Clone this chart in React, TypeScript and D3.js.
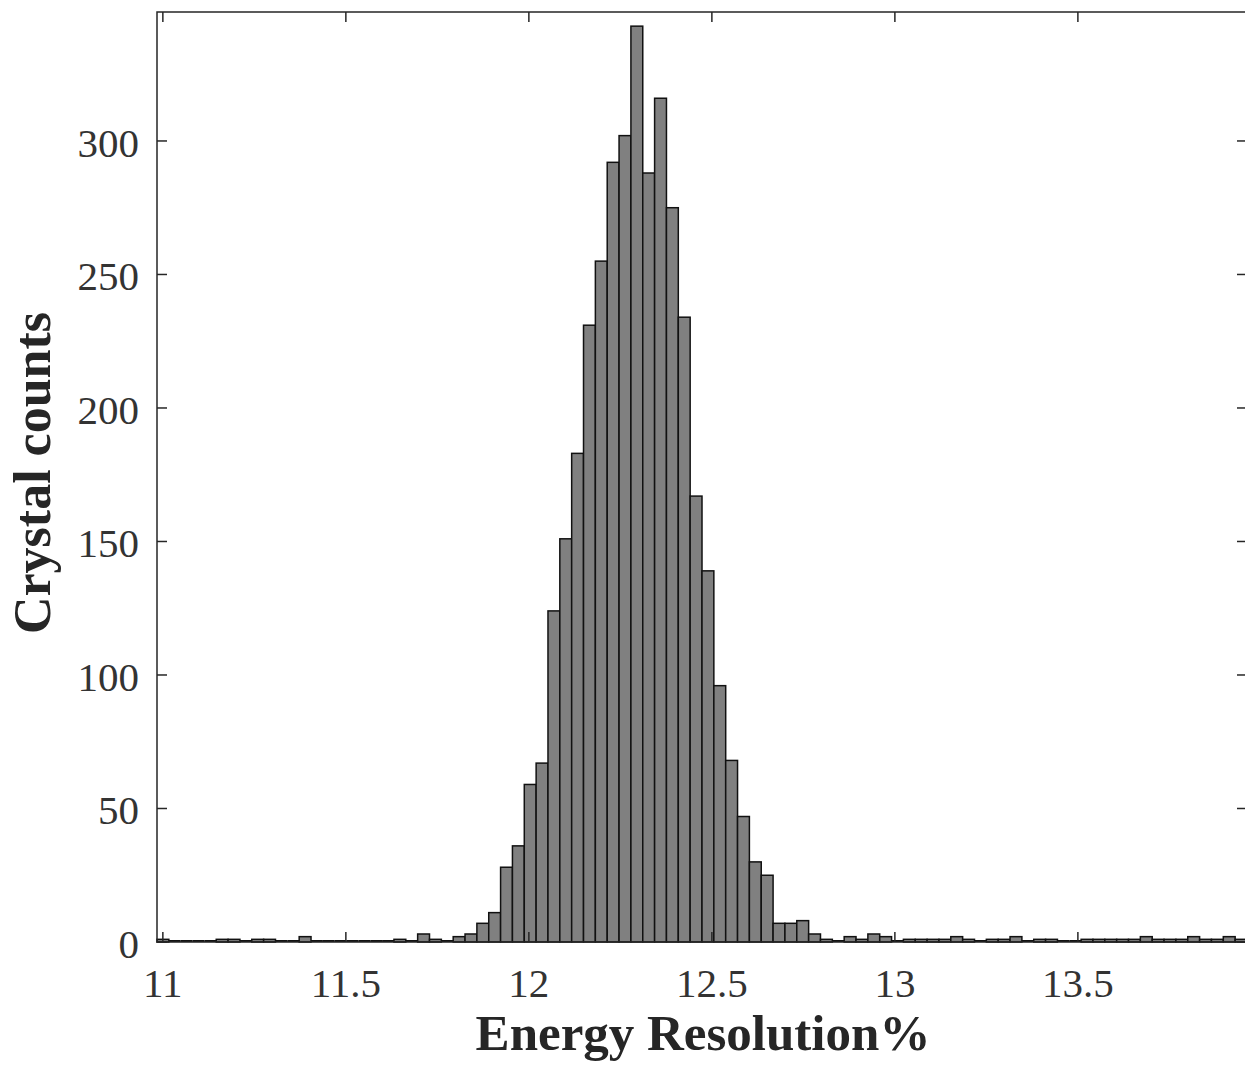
import { useEffect, useRef } from "react";
import * as d3 from "d3";

// histogram bins (energy resolution %), all bins the same width
const binStart = 10.984;
const binWidth = 0.03237;
const counts = [
  1, 0, 0, 0, 0, 1, 1, 0, 1, 1, 0, 0, 2, 0, 0, 0, 0, 0, 0, 0,
  1, 0, 3, 1, 0, 2, 3, 7, 11, 28, 36, 59, 67, 124, 151, 183, 231, 255, 292, 302,
  343, 288, 316, 275, 234, 167, 139, 96, 68, 47, 30, 25, 7, 7, 8, 3, 1, 0, 2, 1,
  3, 2, 0, 1, 1, 1, 1, 2, 1, 0, 1, 1, 2, 0, 1, 1, 0, 0, 1, 1,
  1, 1, 1, 2, 1, 1, 1, 2, 1, 1, 2, 1,
];
const xTicks = [11, 11.5, 12, 12.5, 13, 13.5];
const yTicks = [0, 50, 100, 150, 200, 250, 300];

export default function App() {
  const ref = useRef<SVGSVGElement>(null);

  useEffect(() => {
    const svg = d3.select(ref.current);
    svg.selectAll("*").remove();

    const left = 157, right = 1247, top = 12, bottom = 942;
    const xMax = binStart + binWidth * counts.length;

    const x = d3.scaleLinear().domain([binStart, xMax]).range([left, right]);
    const y = d3.scaleLinear().domain([0, 348.3]).range([bottom, top]);

    const font = "'Liberation Serif', 'Times New Roman', serif";
    const axisColor = "#262626";
    const binX0 = (i: number) => x(binStart + i * binWidth);
    const binX1 = (i: number) => x(binStart + (i + 1) * binWidth);

    // bars
    svg.append("g")
      .selectAll("rect")
      .data(counts)
      .enter()
      .append("rect")
      .attr("x", (d, i) => binX0(i))
      .attr("width", (d, i) => binX1(i) - binX0(i))
      .attr("y", (d) => y(d))
      .attr("height", (d) => y(0) - y(d))
      .attr("fill", "#808080")
      .attr("stroke", "#111")
      .attr("stroke-width", 1.5);

    // empty bins still leave their edge on the baseline
    svg.append("g")
      .selectAll("line")
      .data(counts.map((c, i) => ({ c, i })).filter((d) => d.c === 0))
      .enter()
      .append("line")
      .attr("x1", (d) => binX0(d.i))
      .attr("x2", (d) => binX1(d.i))
      .attr("y1", y(0) - 1)
      .attr("y2", y(0) - 1)
      .attr("stroke", "#111")
      .attr("stroke-width", 2);

    // box
    svg.append("rect")
      .attr("x", left).attr("y", top)
      .attr("width", right - left).attr("height", bottom - top)
      .attr("fill", "none")
      .attr("stroke", axisColor)
      .attr("stroke-width", 1.5);

    const tickLen = 10;
    const ticks = svg.append("g").attr("stroke", axisColor).attr("stroke-width", 1.5);

    xTicks.forEach((t) => {
      ticks.append("line").attr("x1", x(t)).attr("x2", x(t)).attr("y1", bottom).attr("y2", bottom - tickLen);
      ticks.append("line").attr("x1", x(t)).attr("x2", x(t)).attr("y1", top).attr("y2", top + tickLen);
    });
    yTicks.forEach((t) => {
      ticks.append("line").attr("x1", left).attr("x2", left + tickLen).attr("y1", y(t)).attr("y2", y(t));
      ticks.append("line").attr("x1", right).attr("x2", right - tickLen).attr("y1", y(t)).attr("y2", y(t));
    });

    // tick labels
    svg.append("g")
      .selectAll("text")
      .data(xTicks)
      .enter()
      .append("text")
      .attr("x", (d) => x(d))
      .attr("y", 997)
      .attr("text-anchor", "middle")
      .attr("font-family", font)
      .attr("font-size", 41)
      .attr("fill", "#333")
      .text((d) => String(d));

    svg.append("g")
      .selectAll("text")
      .data(yTicks)
      .enter()
      .append("text")
      .attr("x", 139)
      .attr("y", (d) => y(d))
      .attr("dy", "0.39em")
      .attr("text-anchor", "end")
      .attr("font-family", font)
      .attr("font-size", 41)
      .attr("fill", "#333")
      .text((d) => String(d));

    // axis titles
    svg.append("text")
      .attr("x", 703)
      .attr("y", 1050)
      .attr("text-anchor", "middle")
      .attr("font-family", font)
      .attr("font-weight", "bold")
      .attr("font-size", 51)
      .attr("fill", axisColor)
      .text("Energy Resolution%");

    svg.append("text")
      .attr("transform", `translate(50, ${(top + bottom) / 2 - 4}) rotate(-90)`)
      .attr("text-anchor", "middle")
      .attr("font-family", font)
      .attr("font-weight", "bold")
      .attr("font-size", 52)
      .attr("fill", axisColor)
      .text("Crystal counts");
  }, []);

  return (
    <svg
      ref={ref}
      width={1245}
      height={1065}
      style={{ position: "absolute", left: 0, top: 0, background: "#fff" }}
    />
  );
}
